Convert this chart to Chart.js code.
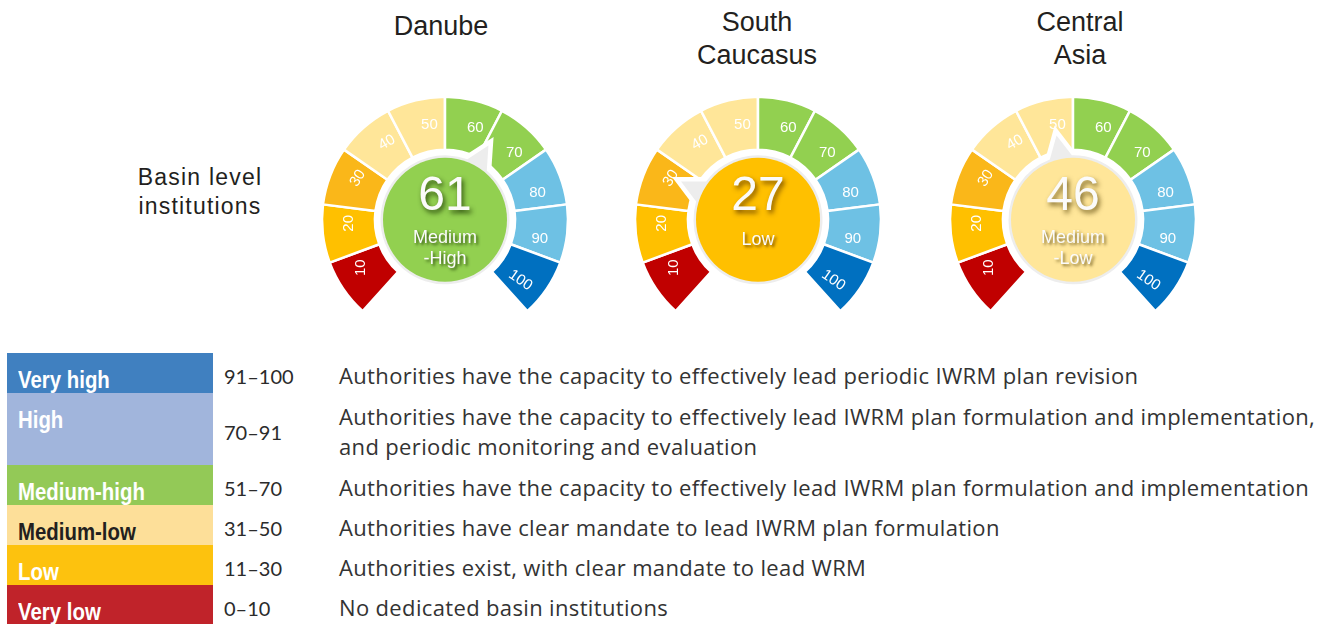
<!DOCTYPE html>
<html>
<head>
<meta charset="utf-8">
<script src="https://cdn.jsdelivr.net/npm/chart.js@4.4.1/dist/chart.umd.min.js"></script>
<style>
  html, body { margin: 0; padding: 0; background: #fff; }
  #page { position: relative; width: 1325px; height: 624px; overflow: hidden;
          font-family: "Liberation Sans", Arial, sans-serif; color: #231f20; }
  .gauge { position: absolute; top: 64px; }
  .title { position: absolute; width: 240px; text-align: center; font-size: 27px; line-height: 33px; }
  .rowlabel { position: absolute; left: 110px; top: 163px; width: 180px; text-align: center;
              font-size: 23px; line-height: 29px; letter-spacing: 1.2px; }
  #key { position: absolute; left: 7px; top: 353px; width: 1318px; }
  .krow { position: relative; width: 100%; }
  .kbox { position: absolute; left: 0; top: 0; bottom: 0; width: 206px; overflow: hidden; }
  .kname { position: absolute; left: 11px; top: 15px; line-height: 24px; font-size: 24px; font-weight: bold;
           white-space: nowrap; transform: scaleX(0.85); transform-origin: 0 0;
           font-family: "Liberation Sans", Arial, sans-serif; }
  .krange { position: absolute; left: 217px; font-family: Lato, "Open Sans", sans-serif; font-size: 20px;
            line-height: 30px; color: #2b2b2b; }
  .kdesc { position: absolute; left: 332px; font-family: "Open Sans", Lato, sans-serif; font-size: 22px;
           letter-spacing: 0.35px; line-height: 30px; color: #333; white-space: nowrap; }
</style>
</head>
<body>
<div id="page">
  <div class="rowlabel">Basin level<br>institutions</div>
  <div id="key"></div>
</div>
<script>
// ---- gauge data ----
const regionNames = [['Danube'], ['South', 'Caucasus'], ['Central', 'Asia']];
const regionScores = [61, 27, 46];
const regionLevels = [['Medium', '-High'], ['Low'], ['Medium', '-Low']];

// ten equal bands of the 0–100 scale, labelled by their upper end
const bandLabels = ['10', '20', '30', '40', '50', '60', '70', '80', '90', '100'];
const bandSizes = [10, 10, 10, 10, 10, 10, 10, 10, 10, 10];

// ---- key data ----
const levelNames = ['Very high', 'High', 'Medium-high', 'Medium-low', 'Low', 'Very low'];
const levelRanges = ['91–100', '70–91', '51–70', '31–50', '11–30', '0–10'];
const levelDescriptions = [
  ['Authorities have the capacity to effectively lead periodic IWRM plan revision'],
  ['Authorities have the capacity to effectively lead IWRM plan formulation and implementation,',
   'and periodic monitoring and evaluation'],
  ['Authorities have the capacity to effectively lead IWRM plan formulation and implementation'],
  ['Authorities have clear mandate to lead IWRM plan formulation'],
  ['Authorities exist, with clear mandate to lead WRM'],
  ['No dedicated basin institutions']
];

// ---- styling ----
const bandColors = ['#c00000', '#ffc000', '#fab719', '#ffe699', '#ffe699',
                    '#92d050', '#92d050', '#6ec1e4', '#6ec1e4', '#0070c0'];
const bandLabelTilt = [-90, -90, -58, -30, 0, 0, 0, 0, 0, 35];
const centreFills = ['#92d050', '#ffc000', '#ffe699'];
const centreShadows = ['rgba(30,60,5,0.85)', 'rgba(100,60,0,0.85)', 'rgba(100,80,20,0.85)'];
const gaugeCentresX = [445, 758, 1073];
const titleCentresX = [441, 757, 1080];
const levelColors = ['#4080c0', '#a1b5dc', '#93c957', '#fddf99', '#fdc20e', '#c0232a'];
const levelTextColors = ['#fff', '#fff', '#fff', '#231f20', '#fff', '#fff'];
const keyRowHeights = [40, 72, 40, 40, 40, 40];

const CANVAS = 280;
const deg = Math.PI / 180;

// Draws the band numbers, the speech-bubble pointer and the centre score.
const gaugeOverlay = {
  id: 'gaugeOverlay',
  afterDatasetsDraw(chart, args, opts) {
    const ctx = chart.ctx;
    const arcs = chart.getDatasetMeta(0).data;
    const values = chart.data.datasets[0].data;
    const cx = arcs[0].x, cy = arcs[0].y;

    // band numbers
    ctx.save();
    ctx.font = '15px "Liberation Sans", Arial, sans-serif';
    ctx.fillStyle = '#ffffff';
    ctx.textAlign = 'center';
    ctx.textBaseline = 'middle';
    arcs.forEach((arc, i) => {
      const p = arc.getProps(['startAngle', 'endAngle', 'innerRadius', 'outerRadius'], true);
      const a = (p.startAngle + p.endAngle) / 2 + 4.5 * deg;
      const r = (p.innerRadius + p.outerRadius) / 2;
      ctx.save();
      ctx.translate(cx + Math.cos(a) * r, cy + Math.sin(a) * r);
      ctx.rotate(bandLabelTilt[i] * deg);
      ctx.fillText(chart.data.labels[i], 0, 0);
      ctx.restore();
    });
    ctx.restore();

    // angle of the score along the bands
    let acc = 0, ang = null;
    for (let i = 0; i < arcs.length; i++) {
      const p = arcs[i].getProps(['startAngle', 'endAngle'], true);
      const size = values[i];
      if (opts.value <= acc + size || i === arcs.length - 1) {
        ang = p.startAngle + (opts.value - acc) / size * (p.endAngle - p.startAngle);
        break;
      }
      acc += size;
    }

    // bubble: ring with a tail pointing at the score
    const rb = 64.5, tip = 86, half = 10 * deg;
    ctx.save();
    ctx.beginPath();
    ctx.arc(cx, cy, rb, ang + half, ang - half + Math.PI * 2);
    ctx.lineTo(cx + Math.cos(ang) * tip, cy + Math.sin(ang) * tip);
    ctx.closePath();
    ctx.lineJoin = 'miter';
    ctx.lineWidth = 9;
    ctx.strokeStyle = '#ffffff';
    ctx.stroke();
    ctx.fillStyle = '#ededed';
    ctx.fill();

    // centre disc
    ctx.beginPath();
    ctx.arc(cx, cy, 62, 0, Math.PI * 2);
    ctx.fillStyle = opts.fill;
    ctx.fill();

    // score and level text
    ctx.textAlign = 'center';
    ctx.textBaseline = 'middle';
    ctx.shadowColor = opts.shadow;
    ctx.shadowBlur = 5;
    ctx.shadowOffsetX = 2;
    ctx.shadowOffsetY = 3;
    ctx.fillStyle = '#fbfbfb';
    ctx.font = '48px "Liberation Sans", Arial, sans-serif';
    ctx.fillText(String(opts.value), cx, cy - 23);
    ctx.shadowBlur = 3;
    ctx.shadowOffsetY = 2;
    ctx.font = '18px "Liberation Sans", Arial, sans-serif';
    const lines = opts.level;
    if (lines.length === 1) {
      ctx.fillText(lines[0], cx, cy + 20);
    } else {
      ctx.fillText(lines[0], cx, cy + 18);
      ctx.fillText(lines[1], cx, cy + 39);
    }
    ctx.restore();
  }
};

const page = document.getElementById('page');

regionNames.forEach((name, k) => {
  const cxPage = gaugeCentresX[k];

  const t = document.createElement('div');
  t.className = 'title';
  t.style.left = (titleCentresX[k] - 120) + 'px';
  t.style.top = (name.length === 1 ? 10 : 6) + 'px';
  t.innerHTML = name.join('<br>');
  page.appendChild(t);

  const cv = document.createElement('canvas');
  cv.className = 'gauge';
  cv.width = CANVAS;
  cv.height = CANVAS;
  cv.style.left = (cxPage - CANVAS / 2) + 'px';
  page.appendChild(cv);

  new Chart(cv, {
    type: 'doughnut',
    data: {
      labels: bandLabels,
      datasets: [{
        data: bandSizes,
        backgroundColor: bandColors,
        borderColor: '#ffffff',
        borderWidth: 2.5,
        borderAlign: 'center'
      }]
    },
    options: {
      responsive: false,
      animation: false,
      events: [],
      rotation: -138,
      circumference: 276,
      radius: 123,
      cutout: '57%',
      layout: { padding: 0 },
      plugins: {
        legend: { display: false },
        tooltip: { enabled: false },
        gaugeOverlay: {
          value: regionScores[k],
          level: regionLevels[k],
          fill: centreFills[k],
          shadow: centreShadows[k]
        }
      }
    },
    plugins: [gaugeOverlay]
  });
});

// key table
const key = document.getElementById('key');
levelNames.forEach((name, i) => {
  const row = document.createElement('div');
  row.className = 'krow';
  row.style.height = keyRowHeights[i] + 'px';

  const box = document.createElement('div');
  box.className = 'kbox';
  box.style.background = levelColors[i];
  const nm = document.createElement('div');
  nm.className = 'kname';
  nm.style.color = levelTextColors[i];
  nm.textContent = name;
  box.appendChild(nm);
  row.appendChild(box);

  const lines = levelDescriptions[i];

  const rg = document.createElement('div');
  rg.className = 'krange';
  rg.style.top = ((keyRowHeights[i] - 30) / 2 + 3) + 'px';
  rg.textContent = levelRanges[i];
  row.appendChild(rg);

  const ds = document.createElement('div');
  ds.className = 'kdesc';
  ds.style.top = ((keyRowHeights[i] - 30 * lines.length) / 2 + 2) + 'px';
  ds.innerHTML = lines.join('<br>');
  row.appendChild(ds);

  key.appendChild(row);
});
</script>
</body>
</html>
